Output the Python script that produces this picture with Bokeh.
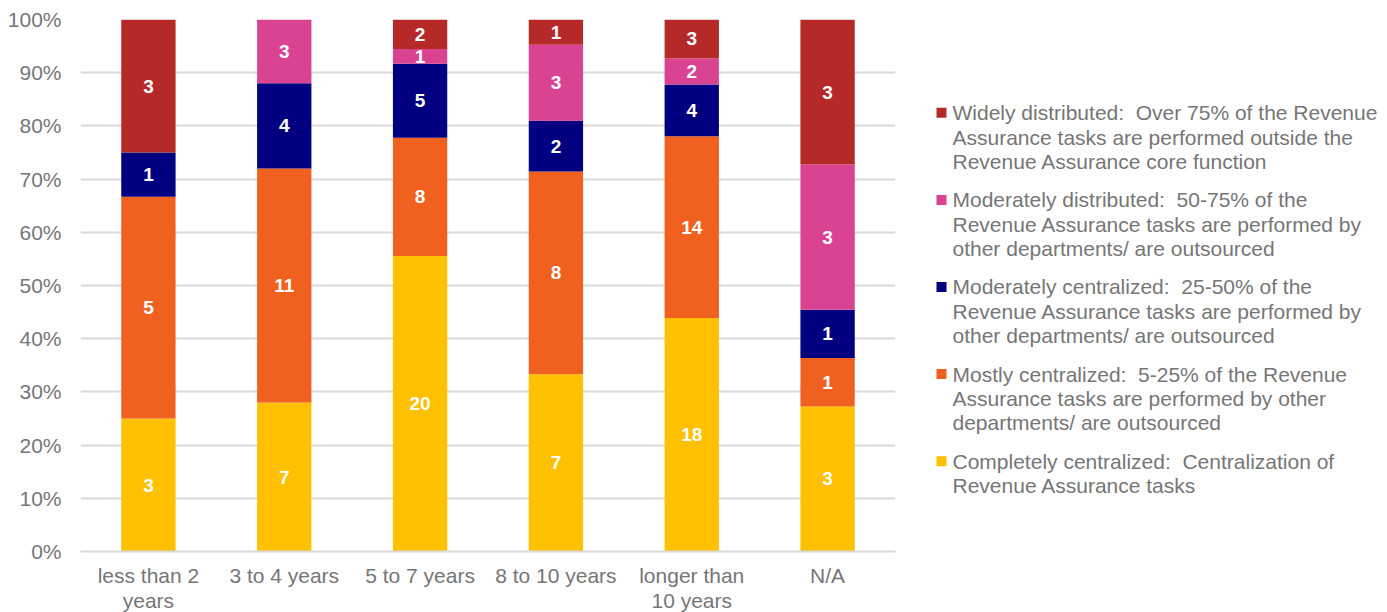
from bokeh.plotting import figure
from bokeh.models import ColumnDataSource, NumeralTickFormatter, FixedTicker, Range1d
from bokeh.layouts import row
from bokeh.embed import file_html
from bokeh.resources import INLINE

# Years in place of the Revenue Assurance function
tenure = ["less than 2 years", "3 to 4 years", "5 to 7 years",
          "8 to 10 years", "longer than 10 years", "N/A"]
tenure_labels = ["less than 2\nyears", "3 to 4 years", "5 to 7 years",
                 "8 to 10 years", "longer than\n10 years", "N/A"]

# Number of respondents per degree of centralization (stacked bottom to top)
completely_centralized = [3, 7, 20, 7, 18, 3]
mostly_centralized = [5, 11, 8, 8, 14, 1]
moderately_centralized = [1, 4, 5, 2, 4, 1]
moderately_distributed = [0, 3, 1, 3, 2, 3]
widely_distributed = [3, 0, 2, 1, 3, 3]

series_keys = ["completely", "mostly", "mod_central", "mod_distrib", "widely"]
series_counts = [completely_centralized, mostly_centralized, moderately_centralized,
                 moderately_distributed, widely_distributed]
series_colors = ["#FFC000", "#F0611F", "#000080", "#D94392", "#B52A29"]
series_legend = [
    "Completely centralized:\u00a0 Centralization of\nRevenue Assurance tasks",
    "Mostly centralized:\u00a0 5-25% of the Revenue\nAssurance tasks are performed by other\ndepartments/ are outsourced",
    "Moderately centralized:\u00a0 25-50% of the\nRevenue Assurance tasks are performed by\nother departments/ are outsourced",
    "Moderately distributed:\u00a0 50-75% of the\nRevenue Assurance tasks are performed by\nother departments/ are outsourced",
    "Widely distributed:\u00a0 Over 75% of the Revenue\nAssurance tasks are performed outside the\nRevenue Assurance core function",
]

FONT = "Liberation Sans"
GREY = "#767676"
FRAME_TOP, FRAME_BOTTOM = 19, 551

n = len(tenure)
xpos = list(range(n))
totals = [sum(col) for col in zip(*series_counts)]
data = {"x": xpos}
for key, counts in zip(series_keys, series_counts):
    data[key] = [c / t for c, t in zip(counts, totals)]
source = ColumnDataSource(data)

p = figure(frame_width=815, frame_height=FRAME_BOTTOM - FRAME_TOP,
           x_range=Range1d(-0.5, n - 0.5), y_range=Range1d(0, 1),
           toolbar_location=None, output_backend="svg",
           min_border_left=80, min_border_right=15, min_border_top=FRAME_TOP,
           min_border_bottom=612 - FRAME_BOTTOM)
p.outline_line_color = None
p.background_fill_color = "white"

p.vbar_stack(series_keys, x="x", width=0.4, color=series_colors,
             line_color=None, source=source)

# count labels centred in each non-empty segment
lx, ly, lt = [], [], []
for i in xpos:
    base = 0.0
    for counts in series_counts:
        share = counts[i] / totals[i]
        if counts[i] > 0:
            lx.append(i)
            ly.append(base + share / 2)
            lt.append(str(counts[i]))
        base += share
p.text(x=lx, y=ly, text=lt, text_color="white", text_font_size="19px",
       text_font_style="bold", text_align="center", text_baseline="middle",
       text_font={"value": FONT})

# axes
p.yaxis.ticker = FixedTicker(ticks=[i / 10 for i in range(11)])
p.yaxis.formatter = NumeralTickFormatter(format="0%")
p.yaxis.axis_line_color = None
p.yaxis.major_tick_line_color = None
p.yaxis.minor_tick_line_color = None
p.yaxis.major_label_standoff = 13
p.yaxis.major_label_text_font = FONT
p.yaxis.major_label_text_font_size = "21px"
p.yaxis.major_label_text_color = GREY

p.xaxis.ticker = FixedTicker(ticks=xpos)
p.xaxis.major_label_overrides = {i: lab for i, lab in zip(xpos, tenure_labels)}
p.xaxis.axis_line_color = "#d9d9d9"
p.xaxis.axis_line_width = 2
p.xaxis.major_tick_line_color = None
p.xaxis.minor_tick_line_color = None
p.xaxis.major_label_standoff = 6
p.xaxis.major_label_text_line_height = 1.1
p.xaxis.major_label_text_font = FONT
p.xaxis.major_label_text_font_size = "21px"
p.xaxis.major_label_text_color = GREY

p.xgrid.grid_line_color = None
p.ygrid.grid_line_color = "#d9d9d9"
p.ygrid.grid_line_width = 2

# legend panel in pixel coordinates (frame shares the plot's vertical extent)
lg = figure(width=477, height=612, x_range=Range1d(0, 477),
            y_range=Range1d(FRAME_BOTTOM, FRAME_TOP),
            toolbar_location=None, output_backend="svg", min_border=0,
            x_axis_location=None, y_axis_location=None)
lg.outline_line_color = None
lg.xgrid.visible = False
lg.ygrid.visible = False

entry_top, entry_step, line_step = 112.7, 87.4, 24.5
sq_y, sq_c, tx, ty, tt = [], [], [], [], []
for k, idx in enumerate(reversed(range(len(series_keys)))):
    y0 = entry_top + k * entry_step
    sq_y.append(y0)
    sq_c.append(series_colors[idx])
    for j, line in enumerate(series_legend[idx].split("\n")):
        tx.append(42)
        ty.append(y0 + j * line_step)
        tt.append(line)
lg.scatter(x=[31] * len(sq_y), y=sq_y, marker="square", size=10, color=sq_c, line_color=None)
lg.text(x=tx, y=ty, text=tt, text_color=GREY, text_font_size="21px",
        text_baseline="middle", text_align="left", text_font={"value": FONT})

layout = row(p, lg)
open("out.html", "w").write(file_html(layout, INLINE))
